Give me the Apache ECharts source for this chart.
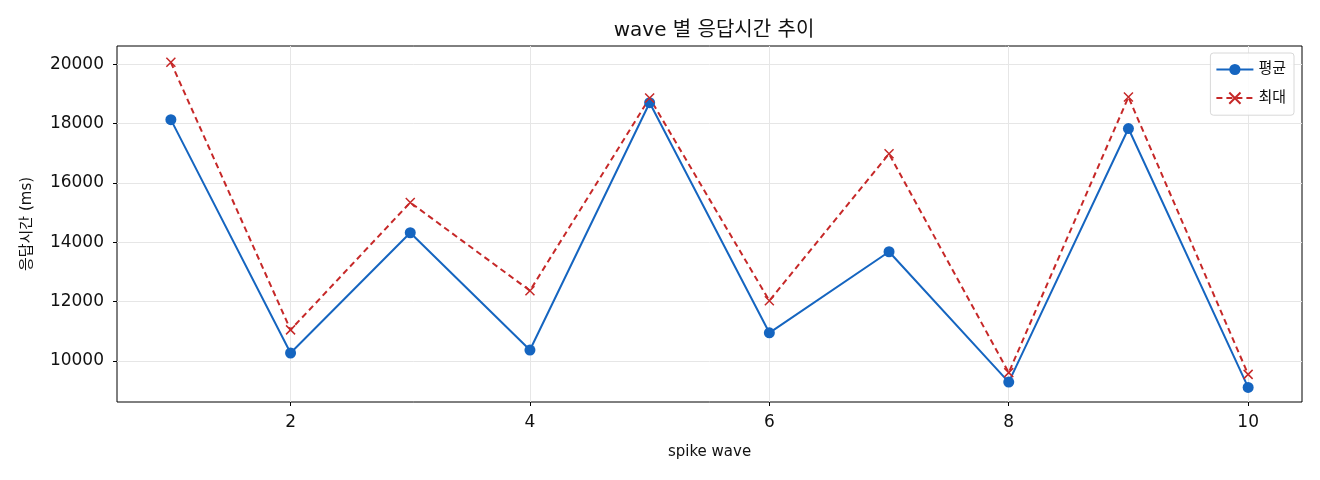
<!DOCTYPE html>
<html>
<head>
<meta charset="utf-8">
<script src="https://cdn.jsdelivr.net/npm/echarts@6/dist/echarts.min.js"></script>
<style>
html, body { margin: 0; padding: 0; background: #fff; }
#chart { width: 1320px; height: 480px; }
</style>
</head>
<body>
<div id="chart"></div>
<script>
var waves = [1, 2, 3, 4, 5, 6, 7, 8, 9, 10];
var avgMs = [18130, 10270, 14320, 10370, 18700, 10950, 13680, 9290, 17830, 9110];
var maxMs = [20060, 11050, 15340, 12370, 18860, 12030, 16980, 9610, 18890, 9550];
var xTicks = [2, 4, 6, 8, 10];
var yTicks = [10000, 12000, 14000, 16000, 18000, 20000];

// 라틴 글자는 DejaVu, 한글은 Noto CJK로
var font = '"DejaVu Sans", "Noto Sans CJK KR", sans-serif';
var myChart = echarts.init(document.getElementById("chart"));

function pairs(ys) {
    return waves.map(function (x, i) { return [x, ys[i]]; });
}

option = {
    backgroundColor: '#fff',
    animation: false,
    textStyle: { fontFamily: font },
    title: {
        text: 'wave 별 응답시간 추이',
        left: 709, top: 16, textAlign: 'center',
        textStyle: { fontSize: 20, fontWeight: 'normal', color: '#111', fontFamily: font }
    },
    legend: {
        right: 26, top: 53,
        orient: 'vertical',
        itemWidth: 37, itemHeight: 14, itemGap: 13,
        padding: [9, 8, 9, 5],
        borderColor: '#d8d8d8', borderWidth: 1, borderRadius: 3,
        backgroundColor: 'rgba(255,255,255,0.85)',
        textStyle: { fontSize: 15, color: '#111', fontFamily: font },
        data: ['평균', '최대']
    },
    grid: {
        left: 117, right: 18, top: 46, bottom: 78,
        show: true, borderColor: '#000', borderWidth: 1
    },
    xAxis: {
        type: 'value', min: 0.55, max: 10.45,
        name: 'spike wave', nameLocation: 'middle', nameGap: 43,
        nameTextStyle: { fontSize: 15, color: '#111' },
        axisLine: { show: false },
        axisTick: { show: true, length: 4, lineStyle: { color: '#000' }, customValues: xTicks },
        axisLabel: { fontSize: 17, color: '#111', margin: 12, customValues: xTicks },
        splitLine: { show: true, lineStyle: { color: '#e6e6e6', width: 1 } }
    },
    yAxis: {
        type: 'value', min: 8620, max: 20610,
        name: '응답시간 (ms)', nameLocation: 'middle', nameGap: 82,
        nameTextStyle: { fontSize: 15, color: '#111' },
        axisLine: { show: false },
        axisTick: { show: true, length: 4, lineStyle: { color: '#000' }, customValues: yTicks },
        axisLabel: {
            fontSize: 17, color: '#111', margin: 13, customValues: yTicks,
            formatter: function (v) { return String(v); }
        },
        splitLine: { show: true, lineStyle: { color: '#e6e6e6', width: 1 } }
    },
    series: [{
        name: '평균',
        type: 'line',
        data: pairs(avgMs),
        symbol: 'circle', symbolSize: 11,
        itemStyle: { color: '#1565c0' },
        lineStyle: { color: '#1565c0', width: 2 }
    }, {
        name: '최대',
        type: 'line',
        data: pairs(maxMs),
        symbol: 'path://M0,0L10,10M10,0L0,10', symbolSize: 9,
        itemStyle: { color: 'none', borderColor: '#c62828', borderWidth: 1.5 },
        lineStyle: { color: '#c62828', width: 2, type: [6, 4] }
    }]
};
myChart.setOption(option);
</script>
</body>
</html>
